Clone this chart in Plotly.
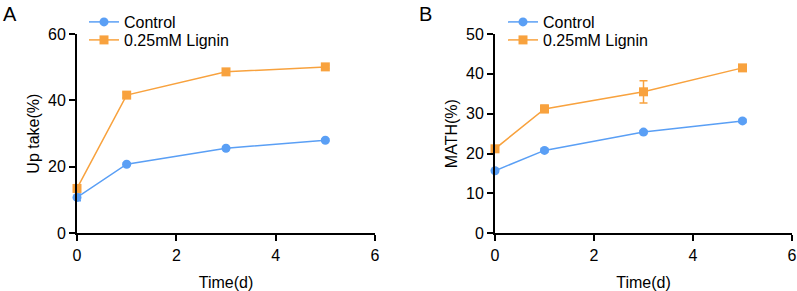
import plotly.graph_objects as go

time_days = [0, 1, 3, 5]

uptake_control = [10.8, 20.8, 25.6, 28.0]
uptake_control_err = [1.0, 0.4, 0.4, 0.4]
uptake_lignin = [13.5, 41.6, 48.6, 50.1]
uptake_lignin_err = [0.8, 0.8, 0.5, 0.5]

math_control = [15.7, 20.8, 25.4, 28.2]
math_control_err = [0.4, 0.4, 0.4, 0.4]
math_lignin = [21.2, 31.2, 35.5, 41.5]
math_lignin_err = [0.6, 0.9, 2.8, 0.8]

BLUE = "#5A9FF5"
ORANGE = "#F8A23E"
FONT = "Arial, Liberation Sans, sans-serif"
W, H = 797, 291

fig = go.Figure()

def add_series(x, y, err, name, color, symbol, xa, ya, legend):
    fig.add_trace(go.Scatter(
        x=x, y=y, mode="lines+markers", name=name,
        line=dict(color=color, width=1.5),
        marker=dict(color=color, symbol=symbol, size=9),
        error_y=dict(type="data", array=err, color=color, thickness=1.5, width=4),
        xaxis=xa, yaxis=ya, legend=legend, showlegend=True, cliponaxis=False,
    ))

add_series(time_days, uptake_control, uptake_control_err, "Control", BLUE, "circle", "x", "y", "legend")
add_series(time_days, uptake_lignin, uptake_lignin_err, "0.25mM Lignin", ORANGE, "square", "x", "y", "legend2")
add_series(time_days, math_control, math_control_err, "Control", BLUE, "circle", "x2", "y2", "legend3")
add_series(time_days, math_lignin, math_lignin_err, "0.25mM Lignin", ORANGE, "square", "x2", "y2", "legend4")

axis_common = dict(showline=True, linecolor="black", linewidth=2, ticks="outside",
                   ticklen=6, tickwidth=2, tickcolor="black", showgrid=False, zeroline=False,
                   automargin=False,
                   tickfont=dict(size=16, color="black", family=FONT))

yb = (H - 233.3) / H
yt = (H - 34) / H

def leg(xpx, ypx):
    return dict(x=xpx / W, y=1 - ypx / H, xanchor="left", yanchor="middle",
                bgcolor="rgba(0,0,0,0)", font=dict(size=16), itemwidth=30)

fig.update_layout(
    width=W, height=H,
    margin=dict(l=0, r=0, t=0, b=0, autoexpand=False),
    plot_bgcolor="white", paper_bgcolor="white",
    font=dict(family=FONT, color="black", size=16),
    xaxis=dict(domain=[77/W, 375/W], range=[0, 6], tickvals=[0, 2, 4, 6], anchor="y",
               title=dict(text="Time(d)", font=dict(size=16), standoff=15), **axis_common),
    yaxis=dict(domain=[yb, yt], range=[0, 60], tickvals=[0, 20, 40, 60], anchor="x",
               title=dict(text="Up take(%)", font=dict(size=16), standoff=4), **axis_common),
    xaxis2=dict(domain=[495/W, 792/W], range=[0, 6], tickvals=[0, 2, 4, 6], anchor="y2",
                title=dict(text="Time(d)", font=dict(size=16), standoff=15), **axis_common),
    yaxis2=dict(domain=[yb, yt], range=[0, 50], tickvals=[0, 10, 20, 30, 40, 50], anchor="x2",
                title=dict(text="MATH(%)", font=dict(size=16), standoff=4), **axis_common),
    legend=leg(84, 22),
    legend2=leg(84, 40),
    legend3=leg(503, 22),
    legend4=leg(503, 40),
    annotations=[
        dict(text="A", x=1/W, y=1 - 1/H, xref="paper", yref="paper", xanchor="left", yanchor="top",
             showarrow=False, font=dict(size=20)),
        dict(text="B", x=417/W, y=1 - 1/H, xref="paper", yref="paper", xanchor="left", yanchor="top",
             showarrow=False, font=dict(size=20)),
    ],
)

fig.write_html("out.html", config={"displayModeBar": False},
               post_script="document.body.style.margin='0';document.body.style.overflow='hidden';")
